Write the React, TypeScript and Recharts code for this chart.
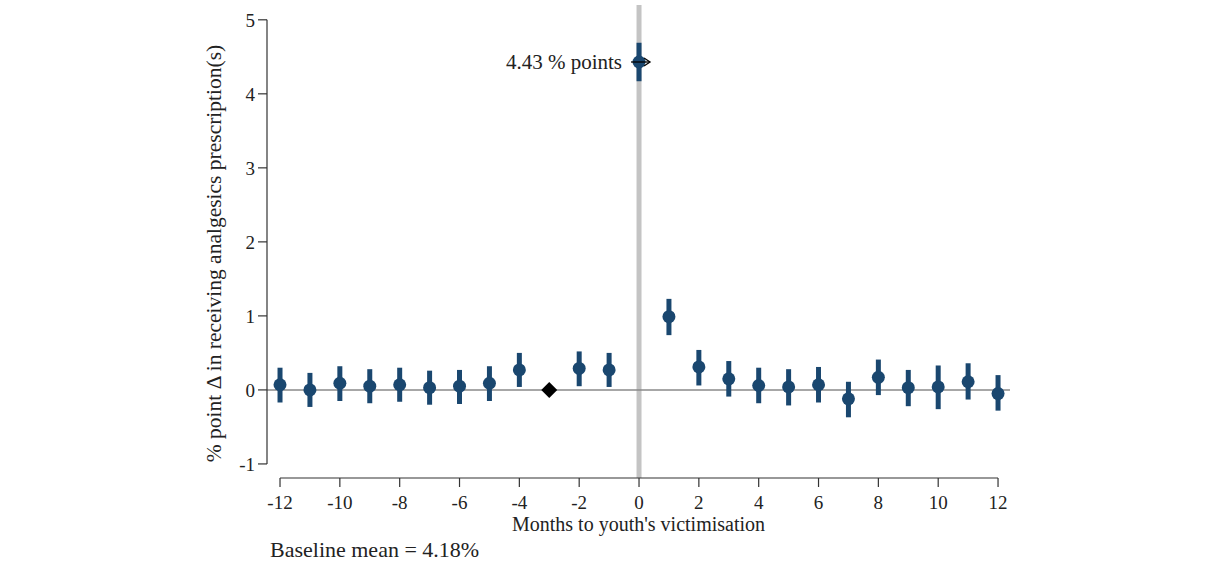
import React from "react";
import {
  ComposedChart,
  Scatter,
  ErrorBar,
  XAxis,
  YAxis,
  ReferenceLine,
  ReferenceDot,
} from "recharts";

// event-study estimates, month -3 is the omitted reference period
const months = [-12, -11, -10, -9, -8, -7, -6, -5, -4, -2, -1, 0, 1, 2, 3, 4, 5, 6, 7, 8, 9, 10, 11, 12];
const estimates = [0.07, 0.0, 0.09, 0.05, 0.07, 0.03, 0.05, 0.09, 0.27, 0.29, 0.27, 4.43, 0.99, 0.31, 0.15, 0.06, 0.04, 0.07, -0.12, 0.17, 0.03, 0.04, 0.11, -0.05];
const ciLow = [-0.17, -0.23, -0.15, -0.18, -0.16, -0.2, -0.19, -0.15, 0.04, 0.05, 0.04, 4.17, 0.74, 0.06, -0.09, -0.18, -0.21, -0.17, -0.37, -0.07, -0.22, -0.26, -0.13, -0.28];
const ciHigh = [0.3, 0.23, 0.32, 0.28, 0.3, 0.26, 0.27, 0.32, 0.5, 0.52, 0.5, 4.69, 1.23, 0.54, 0.39, 0.3, 0.28, 0.31, 0.11, 0.41, 0.27, 0.33, 0.36, 0.2];

const refMonth = [-3];
const refValue = [0];

const xTicks = [-12, -10, -8, -6, -4, -2, 0, 2, 4, 6, 8, 10, 12];
const yTicks = [-1, 0, 1, 2, 3, 4, 5];

const baselineMean = 4.18;
const peakMonth = 0;

const NAVY = "#1a476f";
const FONT = "'Liberation Serif', 'DejaVu Serif', serif";
const INK = "#222";

const points = months.map((m, i) => ({
  month: m,
  est: estimates[i],
  err: [estimates[i] - ciLow[i], ciHigh[i] - estimates[i]],
}));
const refPoints = refMonth.map((m, i) => ({ month: m, est: refValue[i] }));
const peak = points.find((p) => p.month === peakMonth)!;

const Diamond = (props: any) => {
  const { cx, cy } = props;
  const r = 8;
  return <polygon points={`${cx},${cy - r} ${cx + r},${cy} ${cx},${cy + r} ${cx - r},${cy}`} fill="#000" />;
};

const Dot = (props: any) => <circle cx={props.cx} cy={props.cy} r={6.5} fill={NAVY} />;

const PeakNote = (props: any) => {
  const { cx, cy } = props;
  return (
    <g>
      <text x={cx - 17} y={cy} dy="0.33em" textAnchor="end" fontFamily={FONT} fontSize={21} fill={INK}>
        {`${peak.est.toFixed(2)} % points`}
      </text>
      <line x1={cx - 8} y1={cy} x2={cx + 10} y2={cy} stroke="#000" strokeWidth={1.3} />
      <path d={`M${cx + 5},${cy - 4} L${cx + 11},${cy} L${cx + 5},${cy + 4}`} fill="none" stroke="#000" strokeWidth={1.3} />
    </g>
  );
};

const tickStyle = { fontFamily: FONT, fontSize: 19, fill: INK };

export default function App() {
  return (
    <div style={{ position: "absolute", left: 0, top: 0, background: "#fff" }}>
      <ComposedChart width={1211} height={581} margin={{ top: 5, right: 201, bottom: 73, left: 207 }}>
        <XAxis
          dataKey="month"
          type="number"
          domain={[-12.435, 12.4]}
          allowDataOverflow
          ticks={xTicks}
          axisLine={false}
          tickLine={{ stroke: "#333", strokeWidth: 1.2 }}
          tickSize={9}
          tickMargin={9}
          tick={tickStyle}
          height={30}
          label={{
            value: "Months to youth's victimisation",
            position: "insideBottom",
            offset: -23,
            style: { fontFamily: FONT, fontSize: 20, fill: INK },
          }}
        />
        <YAxis
          type="number"
          domain={[-1.19, 5.2]}
          allowDataOverflow
          ticks={yTicks}
          axisLine={false}
          tickLine={{ stroke: "#333", strokeWidth: 1.2 }}
          tickSize={9}
          tickMargin={3}
          tick={tickStyle}
          width={60}
          label={{
            value: "% point \u0394 in receiving analgesics prescription(s)",
            angle: -90,
            position: "insideLeft",
            offset: 6,
            dy: 12,
            style: { fontFamily: FONT, fontSize: 21.5, fill: INK, textAnchor: "middle" },
          }}
        />
        <ReferenceLine x={peakMonth} stroke="#c4c4c4" strokeWidth={5} />
        <ReferenceLine y={0} stroke="#8a8a8a" strokeWidth={1.5} />
        <ReferenceLine
          segment={[{ x: -12.435, y: -1 }, { x: -12.435, y: 5 }]}
          stroke="#333"
          strokeWidth={1.2}
          ifOverflow="visible"
        />
        <ReferenceLine
          segment={[{ x: -12, y: -1.19 }, { x: 12, y: -1.19 }]}
          stroke="#333"
          strokeWidth={1.2}
          ifOverflow="visible"
        />
        <Scatter data={points} dataKey="est" shape={Dot} isAnimationActive={false}>
          <ErrorBar dataKey="err" direction="y" width={0} stroke={NAVY} strokeWidth={5} isAnimationActive={false} />
        </Scatter>
        <Scatter data={refPoints} dataKey="est" shape={Diamond} isAnimationActive={false} />
        <ReferenceDot x={peak.month} y={peak.est} shape={PeakNote} ifOverflow="visible" />
      </ComposedChart>
      <div
        style={{
          position: "absolute",
          left: 270,
          top: 537,
          fontFamily: FONT,
          fontSize: 22,
          color: INK,
          whiteSpace: "nowrap",
        }}
      >
        {`Baseline mean = ${baselineMean.toFixed(2)}%`}
      </div>
    </div>
  );
}
